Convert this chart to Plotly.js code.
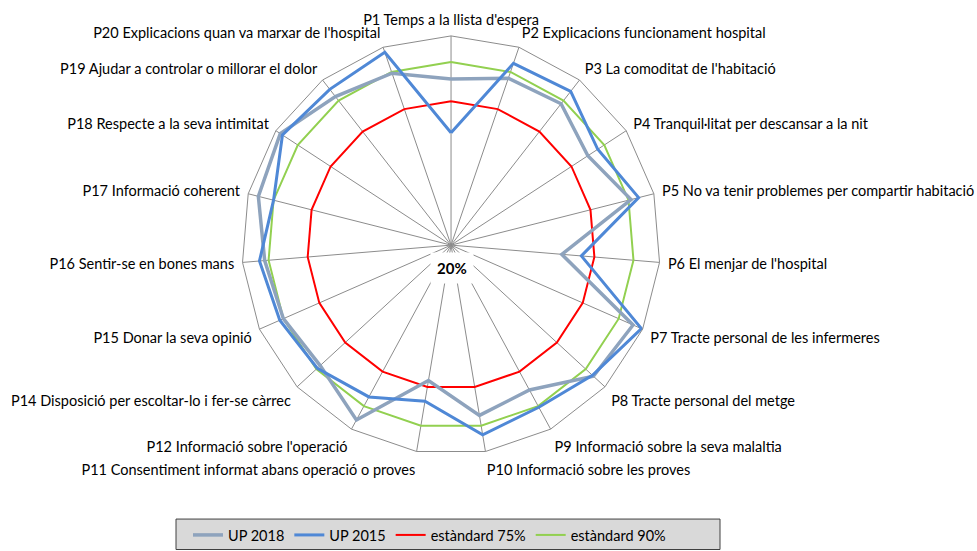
<!DOCTYPE html>
<html>
<head>
<meta charset="utf-8">
<script src="https://cdn.plot.ly/plotly-3.0.1.min.js"></script>
<style>
html,body{margin:0;padding:0;background:#fff;}
#chart{width:977px;height:551px;}
</style>
</head>
<body>
<div id="chart"></div>
<script>
const categories = [
  "P1 Temps a la llista d'espera",
  "P2 Explicacions funcionament hospital",
  "P3 La comoditat de l'habitació",
  "P4 Tranquil·litat per descansar a la nit",
  "P5 No va tenir problemes per compartir habitació",
  "P6 El menjar de l'hospital",
  "P7 Tracte personal de les infermeres",
  "P8 Tracte personal del metge",
  "P9 Informació sobre la seva malaltia",
  "P10 Informació sobre les proves",
  "P11 Consentiment informat abans operació o proves",
  "P12 Informació sobre l'operació",
  "P14 Disposició per escoltar-lo i fer-se càrrec",
  "P15 Donar la seva opinió",
  "P16 Sentir-se en bones mans",
  "P17 Informació coherent",
  "P18 Respecte a la seva intimitat",
  "P19 Ajudar a controlar o millorar el dolor",
  "P20 Explicacions quan va marxar de l'hospital"
];
const up2018 = [83.5, 87.5, 88.5, 82.5, 91, 62.5, 96, 94, 83, 86, 72.5, 96, 88, 90, 91.5, 96, 98, 92, 89.5];
const up2015 = [63, 93.5, 94.5, 87, 94, 70, 99.5, 93.5, 90.5, 93.5, 80.5, 86, 89.5, 91.5, 93.5, 90, 97, 95.5, 98];
const std75 = [75, 75, 75, 75, 75, 75, 75, 75, 75, 75, 75, 75, 75, 75, 75, 75, 75, 75, 75];
const std90 = [90, 90, 90, 90, 90, 90, 90, 90, 90, 90, 90, 90, 90, 90, 90, 90, 90, 90, 90];
const seriesNames = ["UP 2018", "UP 2015", "estàndard 75%", "estàndard 90%"];
const radialMin = 20, radialMax = 100;
const centerLabel = "20%";

function closed(a){ return a.concat([a[0]]); }
const th = closed(categories);

const styles = [
  {color:'#8EA3BD', width:3.5},
  {color:'#4F88D6', width:3},
  {color:'#FF0000', width:2},
  {color:'#92D050', width:2}
];
const seriesData = [up2018, up2015, std75, std90];
const traces = seriesData.map((d,i)=>({
  type:'scatterpolar', mode:'lines',
  r: closed(d), theta: th, name: seriesNames[i],
  line:{color:styles[i].color, width:styles[i].width},
  hoverinfo:'skip', legendrank: i+1
}));
const ordered = [traces[2], traces[3], traces[0], traces[1]];

const layout = {
  width:977, height:551,
  margin:{l:0,r:0,t:0,b:0},
  paper_bgcolor:'#ffffff',
  font:{family:'Lato, Liberation Sans, Arial, sans-serif', size:14.5, color:'#000'},
  showlegend:true,
  legend:{
    orientation:'h', x:188/977, xanchor:'left', y:1-536/551, yanchor:'middle',
    bgcolor:'rgba(0,0,0,0)', borderwidth:0,
    font:{size:14.5}, traceorder:'normal', itemwidth:30
  },
  shapes:[{
    type:'rect', xref:'paper', yref:'paper',
    x0:176/977, x1:720/977, y0:1-550.5/551, y1:1-520/551,
    fillcolor:'#D9D9D9', line:{color:'#404040', width:1}, layer:'below'
  }],
  polar:{
    domain:{x:[0.2471,0.6762], y:[0.1739,0.9347]},
    gridshape:'linear',
    bgcolor:'rgba(0,0,0,0)',
    angularaxis:{
      type:'category', categoryarray:categories, categoryorder:'array',
      rotation:90, direction:'clockwise',
      showline:true, linecolor:'#8C8C8C', linewidth:1,
      showgrid:true, gridcolor:'#8C8C8C', gridwidth:1,
      ticks:'outside', ticklen:5, tickcolor:'rgba(0,0,0,0)',
      tickfont:{size:14.5, color:'#000'}
    },
    radialaxis:{
      range:[radialMin, radialMax],
      showgrid:false, showline:false, showticklabels:false, ticks:''
    }
  },
  annotations:[{
    text:'<b>'+centerLabel+'</b>', xref:'paper', yref:'paper',
    x:452/977, y:1-268/551, xanchor:'center', yanchor:'middle',
    showarrow:false, font:{size:15, color:'#000'},
    bgcolor:'#ffffff', borderpad:6
  }]
};
Plotly.newPlot('chart', ordered, layout, {displayModeBar:false, staticPlot:true});
</script>
</body>
</html>
